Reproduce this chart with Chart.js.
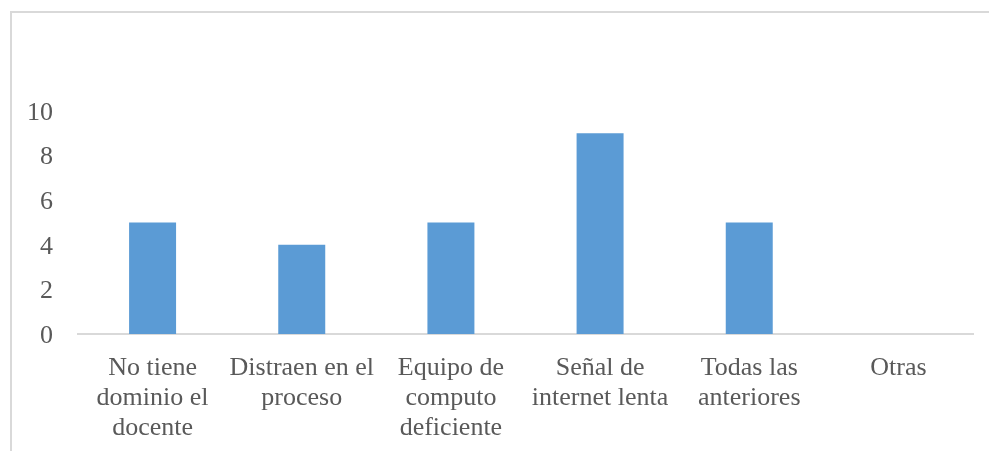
<!DOCTYPE html>
<html>
<head>
<meta charset="utf-8">
<script src="https://cdn.jsdelivr.net/npm/chart.js@4.4.1/dist/chart.umd.min.js"></script>
<style>
  html, body { margin: 0; padding: 0; background: #ffffff; }
  #c { display: block; }
</style>
</head>
<body>
<canvas id="c" width="989" height="451"></canvas>
<script>
const categories = [
  ["No tiene", "dominio el", "docente"],
  ["Distraen en el", "proceso"],
  ["Equipo de", "computo", "deficiente"],
  ["Señal de", "internet lenta"],
  ["Todas las", "anteriores"],
  ["Otras"]
];
const values = [5, 4, 5, 9, 5, 0];
const yTicks = [0, 2, 4, 6, 8, 10];

const framePlugin = {
  id: 'frame',
  beforeDraw(chart) {
    const ctx = chart.ctx;
    ctx.save();
    ctx.strokeStyle = '#d9d9d9';
    ctx.lineWidth = 2;
    ctx.beginPath();
    ctx.moveTo(11, 2000);
    ctx.lineTo(11, 12);
    ctx.lineTo(2000, 12);
    ctx.stroke();
    ctx.restore();
  }
};

const font = { family: "'Liberation Serif', 'Times New Roman', serif", size: 26, lineHeight: 1.15 };

new Chart(document.getElementById('c'), {
  type: 'bar',
  data: {
    labels: categories,
    datasets: [{
      data: values,
      backgroundColor: '#5b9bd5',
      borderWidth: 0,
      barPercentage: 0.315,
      categoryPercentage: 1.0
    }]
  },
  options: {
    responsive: false,
    animation: false,
    devicePixelRatio: 1,
    layout: { padding: { left: 0, right: 16, top: 111, bottom: 0 } },
    plugins: { legend: { display: false }, tooltip: { enabled: false } },
    scales: {
      x: {
        grid: { display: false, drawTicks: false },
        border: { display: true, color: '#d9d9d9', width: 2 },
        ticks: { color: '#595959', font: font, padding: 19, maxRotation: 0, autoSkip: false },
        afterFit(scale) { scale.height = 117; }
      },
      y: {
        min: 0,
        max: 10,
        afterBuildTicks(scale) { scale.ticks = yTicks.map(v => ({ value: v })); },
        grid: { display: false, drawTicks: false },
        border: { display: false },
        ticks: { color: '#595959', font: font, padding: 25, labelOffset: 2 },
        afterFit(scale) { scale.width = 78; }
      }
    }
  },
  plugins: [framePlugin]
});
</script>
</body>
</html>
